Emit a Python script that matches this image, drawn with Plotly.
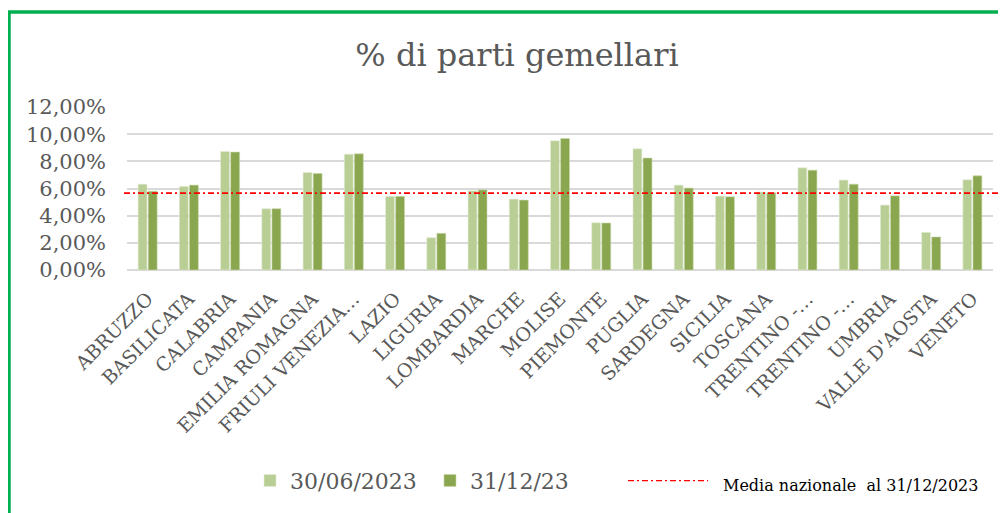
import plotly.graph_objects as go

regions = ["ABRUZZO", "BASILICATA", "CALABRIA", "CAMPANIA", "EMILIA ROMAGNA",
           "FRIULI VENEZIA GIULIA", "LAZIO", "LIGURIA", "LOMBARDIA", "MARCHE",
           "MOLISE", "PIEMONTE", "PUGLIA", "SARDEGNA", "SICILIA", "TOSCANA",
           "TRENTINO - BOLZANO", "TRENTINO - TRENTO", "UMBRIA", "VALLE D'AOSTA", "VENETO"]
tick_labels = ["ABRUZZO", "BASILICATA", "CALABRIA", "CAMPANIA", "EMILIA ROMAGNA",
               "FRIULI VENEZIA…", "LAZIO", "LIGURIA", "LOMBARDIA", "MARCHE",
               "MOLISE", "PIEMONTE", "PUGLIA", "SARDEGNA", "SICILIA", "TOSCANA",
               "TRENTINO -…", "TRENTINO -…", "UMBRIA", "VALLE D'AOSTA", "VENETO"]
val_jun = [0.0632, 0.0615, 0.0873, 0.0451, 0.0718, 0.0853, 0.0542, 0.0238, 0.0583, 0.0522,
           0.0951, 0.0348, 0.0892, 0.0625, 0.0544, 0.0574, 0.0752, 0.0662, 0.0478, 0.0277, 0.0664]
val_dec = [0.0580, 0.0625, 0.0868, 0.0451, 0.0711, 0.0855, 0.0542, 0.0270, 0.0590, 0.0515,
           0.0968, 0.0346, 0.0824, 0.0603, 0.0539, 0.0569, 0.0735, 0.0632, 0.0546, 0.0243, 0.0693]
y_ticks = [0, 0.02, 0.04, 0.06, 0.08, 0.10, 0.12]
media_nazionale = 0.0566
series_names = ["30/06/2023", "31/12/23"]
media_label = "Media nazionale  al 31/12/2023"
title_text = "% di parti gemellari"

W, H = 1006, 513
OFF = 8  # page body margin
# page pixel geometry: margin box (paper) and bar area
A_LEFT = 96            # left edge of paper area (page px)
P_LEFT, P_RIGHT, P_TOP, P_BOTTOM = 127, 993, 106.7, 270
L = A_LEFT - OFF
T = P_TOP - OFF
R = W - (P_RIGHT - OFF)
B = H - (P_BOTTOM - OFF)
AW, PH = P_RIGHT - A_LEFT, P_BOTTOM - P_TOP

def px_x(px):
    return (px - A_LEFT) / AW

def px_y(py):
    return (P_BOTTOM - py) / PH

FONT = "DejaVu Serif"
GREY = "#595959"

fig = go.Figure()
fig.add_trace(go.Bar(x=regions, y=val_jun, name=series_names[0],
                     marker=dict(color="#B9CE94", line=dict(color="#E4EDD6", width=0.6))))
fig.add_trace(go.Bar(x=regions, y=val_dec, name=series_names[1],
                     marker=dict(color="#8AA64E", line=dict(color="#C9D9AC", width=0.6))))
# empty helper trace so that the label-only value axis (y2) is drawn
fig.add_trace(go.Scatter(x=[], y=[], yaxis="y2", mode="lines", showlegend=False,
                         hoverinfo="skip"))

fig.update_layout(
    width=W, height=H,
    margin=dict(l=L, r=R, t=T, b=B, autoexpand=False),
    paper_bgcolor="white", plot_bgcolor="white",
    barmode="group", bargap=0.51, bargroupgap=0.12,
    separators=",.",
    font=dict(family=FONT, color=GREY),
    title=dict(text=title_text, x=px_x(517), xref="paper", xanchor="center",
               y=1 - (55 - OFF) / H, yanchor="middle",
               font=dict(family=FONT, size=32, color=GREY)),
    showlegend=True,
    legend=dict(orientation="h", x=px_x(250), xanchor="left", y=px_y(481), yanchor="middle",
                font=dict(family=FONT, size=22, color=GREY), bgcolor="rgba(0,0,0,0)",
                tracegroupgap=0, entrywidth=135, entrywidthmode="pixels"),
    xaxis=dict(domain=[px_x(P_LEFT), 1], tickmode="array", tickvals=regions,
               ticktext=tick_labels, tickangle=-45,
               tickfont=dict(family=FONT, size=19, color=GREY), showgrid=False,
               showline=False, ticks="", ticklabelstandoff=13),
    yaxis=dict(range=[0, 0.12], tickvals=y_ticks, showticklabels=False,
               showgrid=True, gridcolor="#D9D9D9", gridwidth=1.5,
               zeroline=True, zerolinecolor="#D9D9D9", zerolinewidth=1.5,
               showline=False, ticks=""),
    yaxis2=dict(range=[0, 0.12], tickvals=y_ticks, tickformat=".2%", overlaying="y",
                anchor="free", position=px_x(106), side="left",
                tickfont=dict(family=FONT, size=21, color=GREY),
                showgrid=False, zeroline=False, showline=False, ticks=""),
)

fig.add_shape(type="line", xref="paper", yref="y", x0=px_x(124), x1=px_x(1016),
              y0=media_nazionale, y1=media_nazionale,
              line=dict(color="#FF0000", width=1.6, dash="6px,3px,2px,3px"))

# media legend
fig.add_shape(type="line", xref="paper", yref="paper", x0=px_x(628), x1=px_x(708),
              y0=px_y(481), y1=px_y(481),
              line=dict(color="#FF0000", width=1.4, dash="6px,3px,2px,3px"))
fig.add_annotation(text=media_label, xref="paper", yref="paper", x=px_x(721), y=px_y(486),
                   xanchor="left", yanchor="middle", showarrow=False,
                   font=dict(family=FONT, size=16, color="black"))

# green frame
fig.add_shape(type="rect", xref="paper", yref="paper", x0=px_x(9), x1=px_x(1030),
              y0=px_y(560), y1=px_y(11.5), line=dict(color="#00B050", width=3.5),
              layer="below")

fig.write_html("out.html")
